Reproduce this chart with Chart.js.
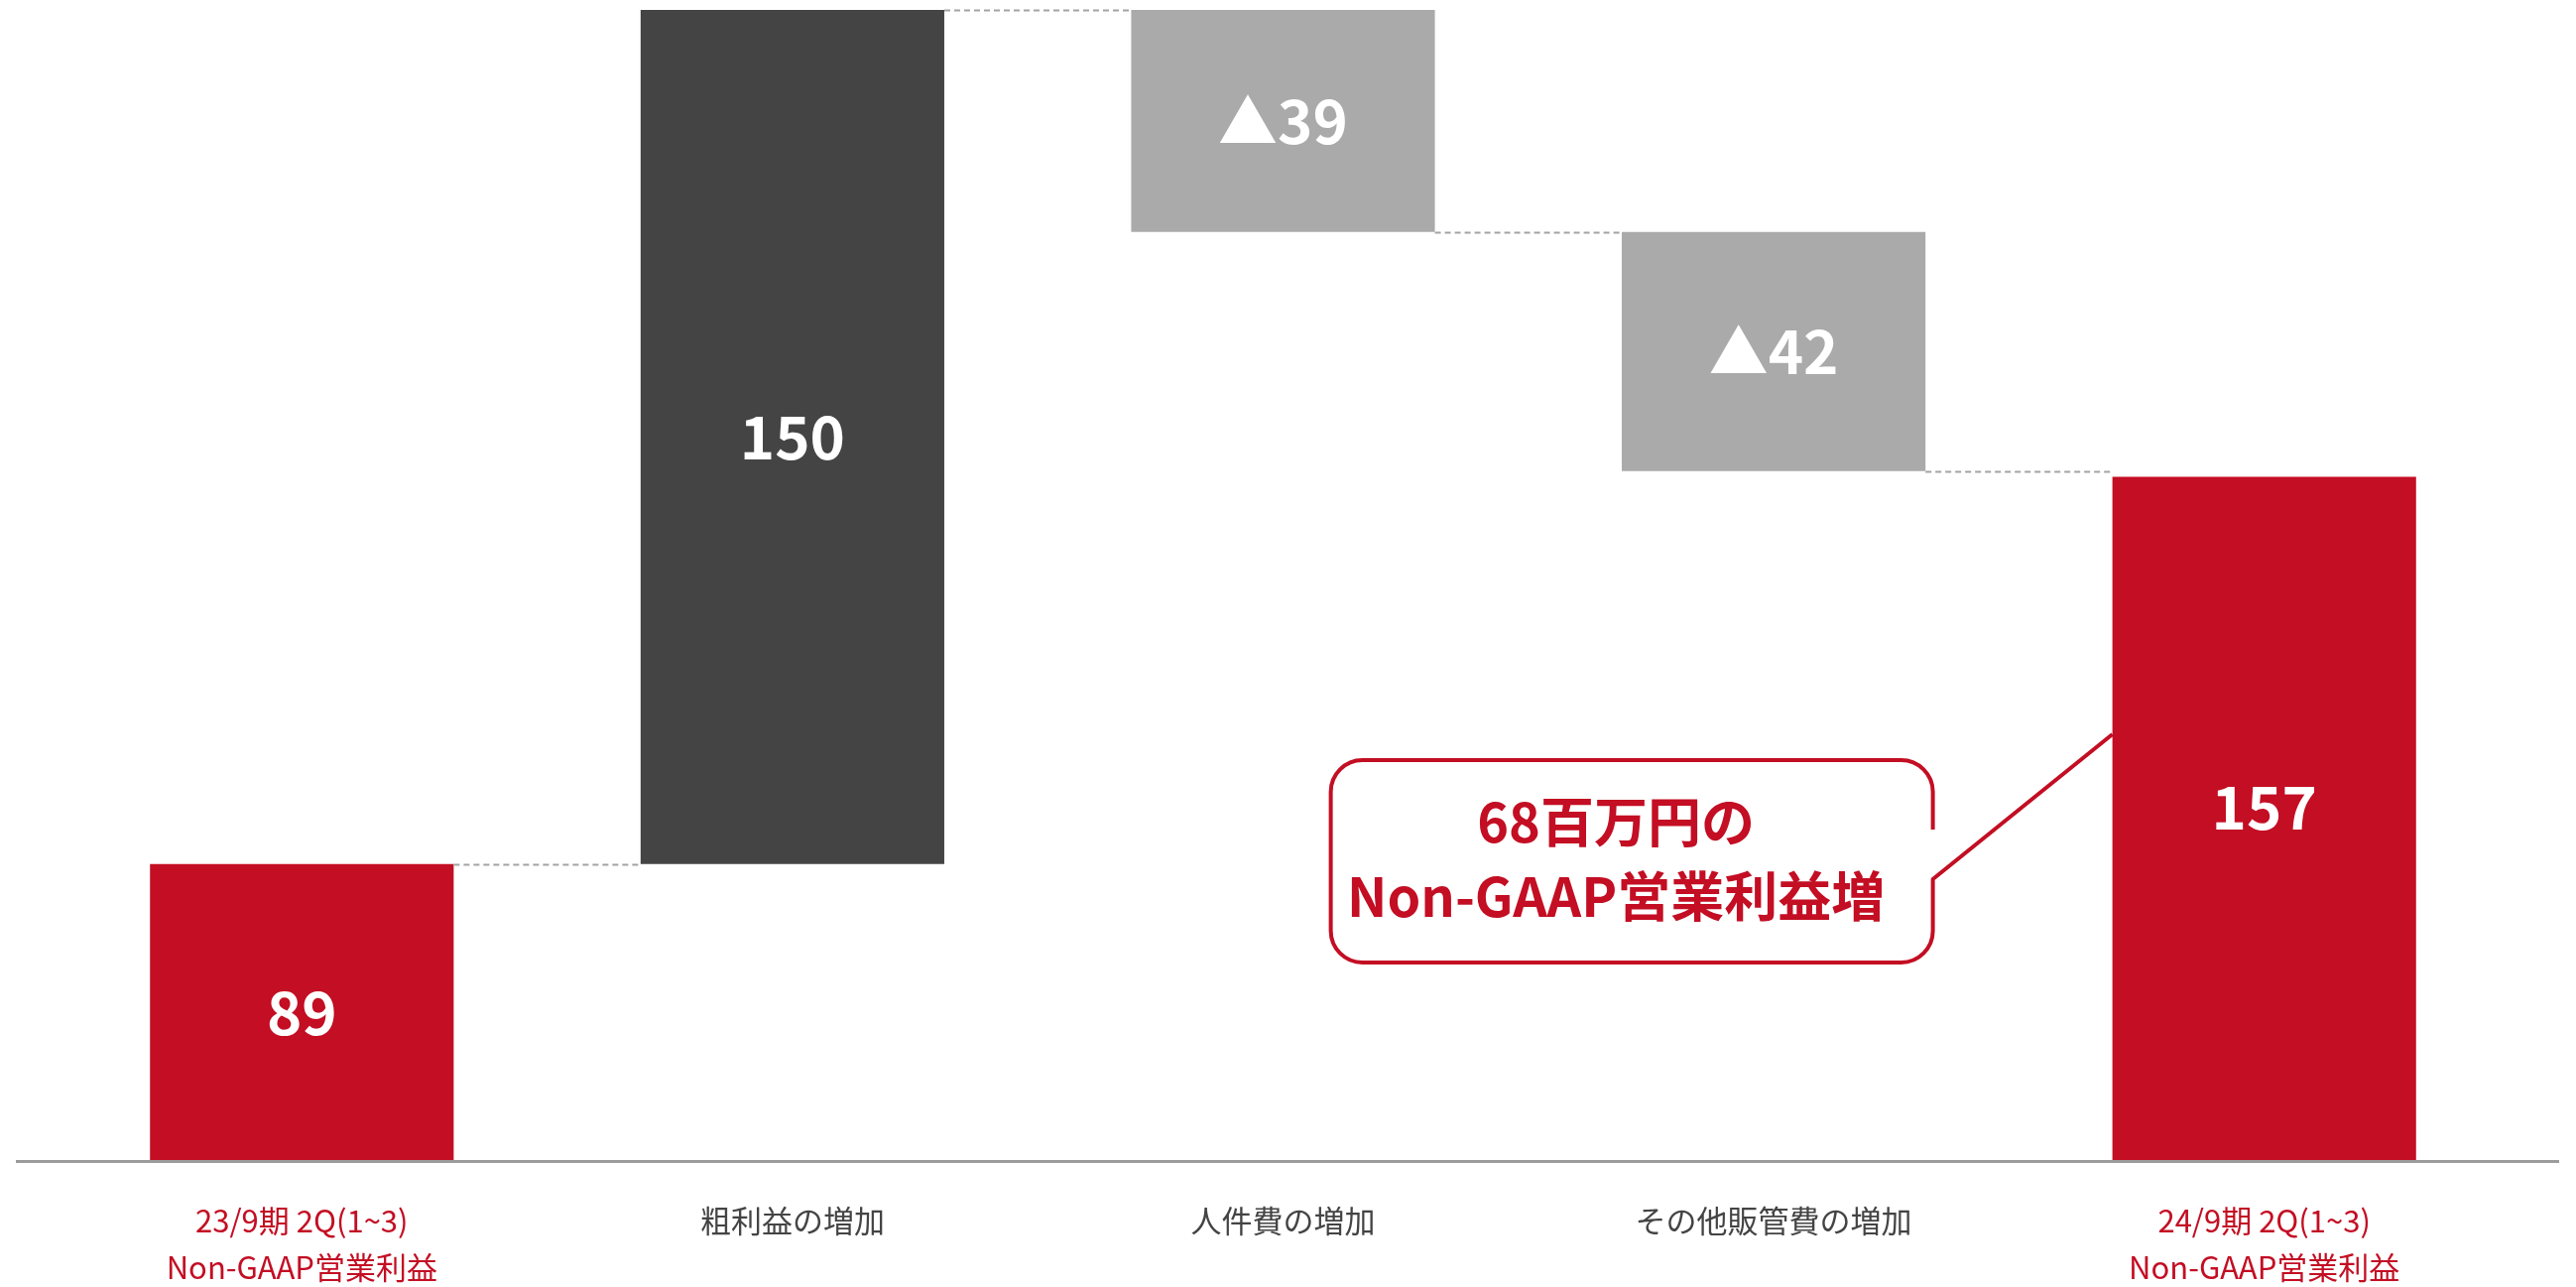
<!DOCTYPE html>
<html><head><meta charset="utf-8">
<script src="https://cdn.jsdelivr.net/npm/chart.js@4.4.1/dist/chart.umd.min.js"></script>
<style>html,body{margin:0;padding:0;background:#fff;overflow:hidden}#wrap{width:2597px;height:1297px;position:relative}</style>
</head><body><div id="wrap"><canvas id="c"></canvas></div>
<script>
const categories = [["23/9期 2Q(1~3)","Non-GAAP営業利益"],"粗利益の増加","人件費の増加","その他販管費の増加",["24/9期 2Q(1~3)","Non-GAAP営業利益"]];
const stepValues = [89, 150, -39, -42, 157];
const stepKinds = ['total','delta','delta','delta','total'];
const barColors = ['#C30E23','#444444','#AAAAAA','#AAAAAA','#C30E23'];
const tickColors = ['#C30E23','#444444','#444444','#444444','#C30E23'];
const calloutLines = ['68百万円の','Non-GAAP営業利益増'];
const axisMin = 37, axisMax = 240.75;

const ranges = []; const levels = []; let run = 0;
stepValues.forEach((v,i)=>{
  if (stepKinds[i]==='total') { ranges.push([0,v]); run = v; }
  else { ranges.push(v>=0 ? [run, run+v] : [run+v, run]); run += v; }
  levels.push(run);
});
const valueLabels = stepValues.map(v => v<0 ? '▲'+Math.abs(v) : String(v));

const FONT = '"Noto Sans CJK JP", "Noto Sans", sans-serif';
const RED = '#C30E23';

const decor = {
  id: 'decor',
  afterDatasetsDraw(chart) {
    const ctx = chart.ctx, area = chart.chartArea;
    const meta = chart.getDatasetMeta(0);
    const ys = chart.scales.y;
    ctx.save();
    // connectors
    ctx.strokeStyle = '#A3A3A3'; ctx.lineWidth = 2; ctx.setLineDash([6,4]);
    for (let i=0;i<meta.data.length-1;i++){
      const a = meta.data[i], b = meta.data[i+1];
      const y = Math.round(ys.getPixelForValue(levels[i]))+0.5;
      ctx.beginPath(); ctx.moveTo(a.x + a.width/2, y); ctx.lineTo(b.x - b.width/2, y); ctx.stroke();
    }
    ctx.setLineDash([]);
    // baseline
    ctx.strokeStyle = '#9B9B9B'; ctx.lineWidth = 3;
    ctx.beginPath(); ctx.moveTo(16, area.bottom+1.5); ctx.lineTo(2580, area.bottom+1.5); ctx.stroke();
    // value labels
    ctx.fillStyle = '#FFFFFF'; ctx.font = 'bold 60px ' + FONT;
    ctx.textAlign = 'center'; ctx.textBaseline = 'middle';
    meta.data.forEach((el,i)=>{
      const top = Math.max(Math.min(el.y, el.base), area.top);
      const bot = Math.min(Math.max(el.y, el.base), area.bottom);
      const shift = (i === meta.data.length-1) ? -12 : 0;
      ctx.fillText(valueLabels[i], el.x, (top+bot)/2 + shift);
    });
    // callout
    const b5 = meta.data[4];
    const left5 = b5.x - b5.width/2;
    const right = left5 - 181, left = right - 607;
    const top = area.top + 766, bottom = area.top + 970, r = 32;
    const gapTop = area.top + 836, gapBot = area.top + 886;
    ctx.strokeStyle = RED; ctx.lineWidth = 4; ctx.lineJoin = 'round';
    ctx.beginPath();
    ctx.moveTo(right, gapTop);
    ctx.arcTo(right, top, left, top, r);
    ctx.arcTo(left, top, left, bottom, r);
    ctx.arcTo(left, bottom, right, bottom, r);
    ctx.arcTo(right, bottom, right, top, r);
    ctx.lineTo(right, gapBot);
    ctx.lineTo(left5, area.top + 740);
    ctx.stroke();
    ctx.fillStyle = RED; ctx.font = 'bold 54px ' + FONT;
    const cx = (left+right)/2 - 16;
    ctx.fillText(calloutLines[0], cx, top + 62);
    ctx.fillText(calloutLines[1], cx, top + 137);
    ctx.restore();
  }
};

new Chart(document.getElementById('c'), {
  type: 'bar',
  data: { labels: categories, datasets: [{ data: ranges, backgroundColor: barColors, borderWidth: 0, clip: 0,
    barPercentage: 1, categoryPercentage: 0.619 }] },
  options: {
    responsive: true, maintainAspectRatio: false, animation: false,
    devicePixelRatio: 1,
    layout: { padding: { left: 57, right: 67, top: 0, bottom: 0 } },
    plugins: { legend: { display: false }, tooltip: { enabled: false } },
    scales: {
      x: { grid: { display: false, drawTicks: false }, border: { display: false },
        ticks: { padding: 38, color: (c)=>tickColors[c.index], font: { family: FONT, size: 31, lineHeight: 1.5 }, maxRotation: 0, autoSkip: false },
        afterFit: (s)=>{ s.height = 128; } },
      y: { display: false, min: axisMin, max: axisMax }
    }
  },
  plugins: [decor]
});
</script></body></html>
